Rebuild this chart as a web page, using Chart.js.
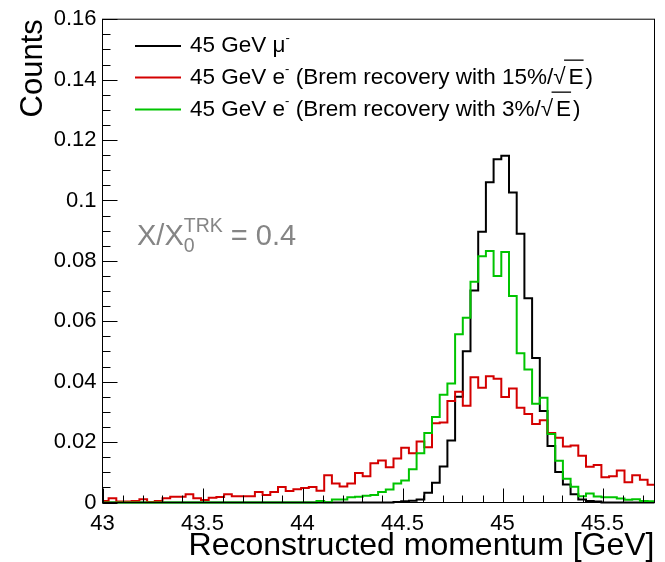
<!DOCTYPE html>
<html>
<head>
<meta charset="utf-8">
<script src="https://cdn.jsdelivr.net/npm/chart.js@4.4.1/dist/chart.umd.min.js"></script>
<style>
  html, body { margin: 0; padding: 0; background: #fff; }
  #wrap { width: 665px; height: 562px; }
</style>
</head>
<body>
<div id="wrap"><canvas id="momentum"></canvas></div>
<script>
// histogram binning [GeV]
const BIN_LOW = 42.992;
const BIN_WIDTH = 0.0385;

// 45 GeV mu-
const muon = [
  0, 0, 0, 0, 0, 0, 0, 0, 0, 0,
  0, 0, 0, 0, 0, 0, 0, 0, 0, 0,
  0, 0, 0, 0, 0, 0, 0, 0, 0, 0,
  0, 0, 0, 0, 0, 0, 0, 0, 0.0002, 0.0004,
  0.0006, 0.001, 0.0032, 0.0065, 0.0119, 0.0205, 0.035, 0.0501, 0.0702, 0.0896,
  0.106, 0.1136, 0.1148, 0.1026, 0.089, 0.0676, 0.0478, 0.0303, 0.0187, 0.0101,
  0.006, 0.0027, 0.001, 0.0005, 0.0003, 0, 0, 0, 0, 0,
  0, 0
];

// 45 GeV e-, brem recovery with 15%/sqrt(E)
const eleBrem15 = [
  0.0005, 0.0014, 0.0003, 0.0003, 0.0005, 0.0011, 0.0002, 0.0005, 0.0014, 0.0019,
  0.0019, 0.0027, 0.0014, 0.0008, 0.0016, 0.0018, 0.0027, 0.0021, 0.0021, 0.0021,
  0.0035, 0.0025, 0.0035, 0.0051, 0.0038, 0.0044, 0.0048, 0.0051, 0.0039, 0.009,
  0.0063, 0.0053, 0.0063, 0.0098, 0.0087, 0.013, 0.0139, 0.0117, 0.0146, 0.0181,
  0.0163, 0.0202, 0.0183, 0.0262, 0.0265, 0.0336, 0.0367, 0.032, 0.0415, 0.038,
  0.0418, 0.041, 0.0349, 0.0377, 0.0314, 0.0293, 0.026, 0.0272, 0.023, 0.0214,
  0.0185, 0.0189, 0.0155, 0.0118, 0.0124, 0.0084, 0.0087, 0.0106, 0.0067, 0.009,
  0.0075, 0.0059
];

// 45 GeV e-, brem recovery with 3%/sqrt(E)
const eleBrem3 = [
  0, 0, 0, 0, 0, 0, 0, 0, 0, 0,
  0, 0, 0, 0, 0, 0, 0, 0, 0, 0,
  0, 0, 0, 0, 0, 0, 0, 0, 0.0005, 0.0001,
  0.001, 0.001, 0.0017, 0.0019, 0.0022, 0.0025, 0.0035, 0.0043, 0.0063, 0.0073,
  0.011, 0.0163, 0.023, 0.0283, 0.0357, 0.0394, 0.0557, 0.0612, 0.0731, 0.0815,
  0.0833, 0.075, 0.0829, 0.0684, 0.0494, 0.044, 0.0327, 0.0347, 0.0227, 0.0138,
  0.0079, 0.0052, 0.0021, 0.003, 0.002, 0.0017, 0.0017, 0.0013, 0.0009, 0.0011,
  0.0005, 0.0004
];

const X_MIN = 43, X_MAX = 45.76;
const Y_MIN = 0, Y_MAX = 0.16;

const FONT = '"Liberation Sans", Arial, Helvetica, sans-serif';

// step outline: one point per bin low edge, plus the upper edge of the last bin
function histPoints(counts) {
  const pts = counts.map((c, i) => ({ x: BIN_LOW + i * BIN_WIDTH, y: c }));
  pts.push({ x: BIN_LOW + counts.length * BIN_WIDTH, y: counts[counts.length - 1] });
  return pts;
}

function histDataset(label, counts, color, order) {
  return {
    label: label,
    data: histPoints(counts),
    borderColor: color,
    borderWidth: 2,
    pointRadius: 0,
    // hold each bin's value until the next edge
    stepped: 'before',
    fill: false,
    order: order,
    clip: { left: 0, top: 0, right: 0, bottom: 2 },
  };
}

// draws a run of text pieces; keep:true does not advance the pen,
// gap adds extra room after a piece, over draws a radical bar back to the previous glyph
function drawPieces(ctx, x, y, pieces) {
  let pen = x;
  let held = 0;
  let prevEnd = x;
  for (const p of pieces) {
    ctx.font = p.size + 'px ' + FONT;
    const w = ctx.measureText(p.t).width;
    ctx.fillText(p.t, pen, y + (p.dy || 0));
    if (p.over) {
      const top = y + (p.dy || 0) - p.size * 0.8;
      ctx.fillRect(prevEnd - 1.5, top, pen + w - prevEnd + 1.5, 1.3);
    }
    if (p.keep) {
      held = Math.max(held, w);
    } else {
      prevEnd = pen + w;
      pen += Math.max(w, held) + (p.gap || 0);
      held = 0;
    }
  }
}

const LEG = 22.5;
const legendEntries = [
  [{ t: '45 GeV \u03bc', size: LEG }, { t: '-', size: 13, dy: -8 }],
  [{ t: '45 GeV e', size: LEG }, { t: '-', size: 13, dy: -8 },
   { t: ' (Brem recovery with 15%/', size: LEG }, { t: '\u221a', size: LEG, gap: 3 },
   { t: 'E', size: LEG, over: true, gap: 2 }, { t: ')', size: LEG }],
  [{ t: '45 GeV e', size: LEG }, { t: '-', size: 13, dy: -8 },
   { t: ' (Brem recovery with 3%/', size: LEG }, { t: '\u221a', size: LEG, gap: 3 },
   { t: 'E', size: LEG, over: true, gap: 2 }, { t: ')', size: LEG }],
];
const legendRows = [46, 77.5, 109.5];

const frameAndLegend = {
  id: 'frameAndLegend',
  afterDatasetsDraw(chart) {
    const { ctx, chartArea: a, scales: { x, y } } = chart;
    ctx.save();
    ctx.strokeStyle = '#000';
    ctx.lineWidth = 1;
    ctx.strokeRect(a.left, a.top, a.right - a.left, a.bottom - a.top);

    // inward ticks: x every 0.1 GeV, y every 0.005
    ctx.beginPath();
    for (let k = 430; k <= 457; k++) {
      const px = Math.round(x.getPixelForValue(k / 10)) + 0.5;
      const len = k % 5 === 0 ? 14 : 7;
      ctx.moveTo(px, a.bottom);
      ctx.lineTo(px, a.bottom - len);
    }
    for (let k = 0; k <= 32; k++) {
      const py = Math.round(y.getPixelForValue(k * 0.005)) + 0.5;
      const len = k % 4 === 0 ? 15 : 8;
      ctx.moveTo(a.left, py);
      ctx.lineTo(a.left + len, py);
    }
    ctx.stroke();

    // legend
    ctx.textBaseline = 'middle';
    ctx.textAlign = 'left';
    const sets = chart.data.datasets;
    legendEntries.forEach((pieces, i) => {
      const ly = legendRows[i];
      ctx.strokeStyle = sets[i].borderColor;
      ctx.lineWidth = 2;
      ctx.beginPath();
      ctx.moveTo(135, ly);
      ctx.lineTo(181, ly);
      ctx.stroke();
      ctx.fillStyle = '#000';
      drawPieces(ctx, 190, ly, pieces);
    });

    // radiation length label
    ctx.fillStyle = '#858585';
    drawPieces(ctx, 137, 237, [
      { t: 'X/X', size: 29 },
      { t: '0', size: 19.5, dy: 10, keep: true },
      { t: 'TRK', size: 19.5, dy: -10 },
      { t: ' = 0.4', size: 29 },
    ]);
    ctx.restore();
  }
};

const trim = v => String(+v.toFixed(2));

new Chart(document.getElementById('momentum'), {
  type: 'line',
  data: {
    datasets: [
      histDataset('45 GeV \u03bc-', muon, '#000000', 3),
      histDataset('45 GeV e- (Brem recovery with 15%/\u221aE)', eleBrem15, '#d40000', 2),
      histDataset('45 GeV e- (Brem recovery with 3%/\u221aE)', eleBrem3, '#00c400', 1),
    ]
  },
  options: {
    responsive: true,
    maintainAspectRatio: false,
    animation: false,
    events: [],
    layout: { padding: { top: 14.5, right: 10.5, bottom: 0, left: 0 } },
    plugins: {
      legend: { display: false },
      tooltip: { enabled: false },
    },
    scales: {
      x: {
        type: 'linear',
        min: X_MIN,
        max: X_MAX,
        border: { display: false },
        grid: { display: false, drawTicks: false },
        ticks: {
          stepSize: 0.5,
          includeBounds: false,
          autoSkip: false,
          maxRotation: 0,
          padding: 8,
          color: '#000',
          font: { size: 22, family: FONT },
          callback: trim,
        },
        title: {
          display: true,
          text: 'Reconstructed momentum [GeV]',
          align: 'end',
          color: '#000',
          font: { size: 32, family: FONT, lineHeight: 1 },
          padding: { top: 0, bottom: 0 },
        },
        afterFit(scale) { scale.height = 59.5; },
      },
      y: {
        min: Y_MIN,
        max: Y_MAX,
        border: { display: false },
        grid: { display: false, drawTicks: false },
        ticks: {
          stepSize: 0.02,
          includeBounds: false,
          padding: 6,
          color: '#000',
          font: { size: 22, family: FONT },
          callback: trim,
        },
        title: {
          display: true,
          text: 'Counts',
          align: 'end',
          color: '#000',
          font: { size: 31, family: FONT, lineHeight: 1 },
          padding: { top: 18, bottom: 0 },
        },
        afterFit(scale) { scale.width = 102.5; },
      },
    },
  },
  plugins: [frameAndLegend],
});
</script>
</body>
</html>
